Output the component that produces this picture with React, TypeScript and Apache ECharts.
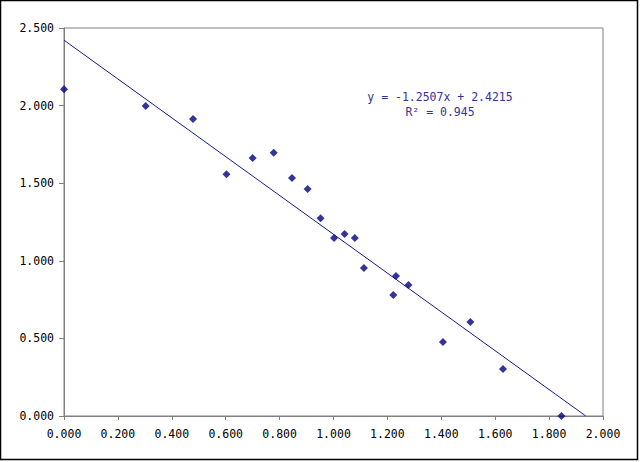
import React, { useEffect, useRef } from "react";
import * as echarts from "echarts";

const xValues = [0.0, 0.303, 0.479, 0.603, 0.7, 0.778, 0.846, 0.904, 0.952, 1.002, 1.041, 1.079, 1.113, 1.222, 1.232, 1.278, 1.406, 1.508, 1.629, 1.846];
const yValues = [2.105, 1.997, 1.914, 1.557, 1.662, 1.697, 1.534, 1.463, 1.274, 1.147, 1.173, 1.147, 0.954, 0.78, 0.902, 0.844, 0.477, 0.606, 0.303, 0.0];
const trendSlope = -1.2507;
const trendIntercept = 2.4215;
const rSquared = "0.945";
const xTicks = { min: 0, max: 2, interval: 0.2 };
const yTicks = { min: 0, max: 2.5, interval: 0.5 };

const MONO = "'DejaVu Sans Mono', 'Liberation Mono', monospace";

export default function App() {
  const ref = useRef<HTMLDivElement>(null);
  useEffect(() => {
    if (!ref.current) return;
    const chart = echarts.init(ref.current, undefined, { renderer: "svg" });
    const points = xValues.map((x, i) => [x, yValues[i]]);
    const xEnd = -trendIntercept / trendSlope;
    const trend = [
      [0, trendIntercept],
      [xEnd, 0],
    ];
    chart.setOption({
      animation: false,
      backgroundColor: "#ffffff",
      grid: {
        left: 64,
        right: 37,
        top: 28,
        bottom: 46,
        show: true,
        borderColor: "#808080",
        borderWidth: 1,
        backgroundColor: "transparent",
      },
      xAxis: {
        type: "value",
        min: xTicks.min,
        max: xTicks.max,
        interval: xTicks.interval,
        splitLine: { show: false },
        axisLine: { show: true, onZero: false, lineStyle: { color: "#808080", width: 1 } },
        axisTick: { show: true, inside: false, length: 4, lineStyle: { color: "#808080" } },
        axisLabel: {
          margin: 12,
          color: "#000000",
          fontFamily: MONO,
          fontSize: 11.5,
          formatter: (v: number) => v.toFixed(3),
        },
      },
      yAxis: {
        type: "value",
        min: yTicks.min,
        max: yTicks.max,
        interval: yTicks.interval,
        splitLine: { show: false },
        axisLine: { show: true, onZero: false, lineStyle: { color: "#808080", width: 1 } },
        axisTick: { show: true, inside: false, length: 5, lineStyle: { color: "#808080" } },
        axisLabel: {
          margin: 10,
          color: "#000000",
          fontFamily: MONO,
          fontSize: 11.5,
          formatter: (v: number) => v.toFixed(3),
        },
      },
      series: [
        {
          type: "line",
          data: trend,
          symbol: "none",
          lineStyle: { color: "#1a1a90", width: 1 },
          z: 2,
        },
        {
          type: "scatter",
          data: points,
          symbol: "diamond",
          symbolSize: 8,
          itemStyle: { color: "#000080" },
          z: 3,
        },
      ],
      graphic: [
        {
          type: "rect",
          shape: { x: 0.5, y: 0.5, width: 637, height: 459 },
          style: { fill: "none", stroke: "#000000", lineWidth: 1.5 },
          silent: true,
        },
        {
          type: "text",
          x: 440,
          y: 97,
          style: {
            text: `y = ${trendSlope}x + ${trendIntercept}`,
            fill: "#333399",
            font: `11.5px ${MONO}`,
            align: "center",
            verticalAlign: "middle",
          },
        },
        {
          type: "text",
          x: 440,
          y: 112,
          style: {
            text: `R² = ${rSquared}`,
            fill: "#333399",
            font: `11.5px ${MONO}`,
            align: "center",
            verticalAlign: "middle",
          },
        },
      ],
    });
    return () => chart.dispose();
  }, []);
  return (
    <div
      ref={ref}
      style={{ position: "fixed", left: 0, top: 0, width: 640, height: 462, background: "#fff" }}
    />
  );
}
